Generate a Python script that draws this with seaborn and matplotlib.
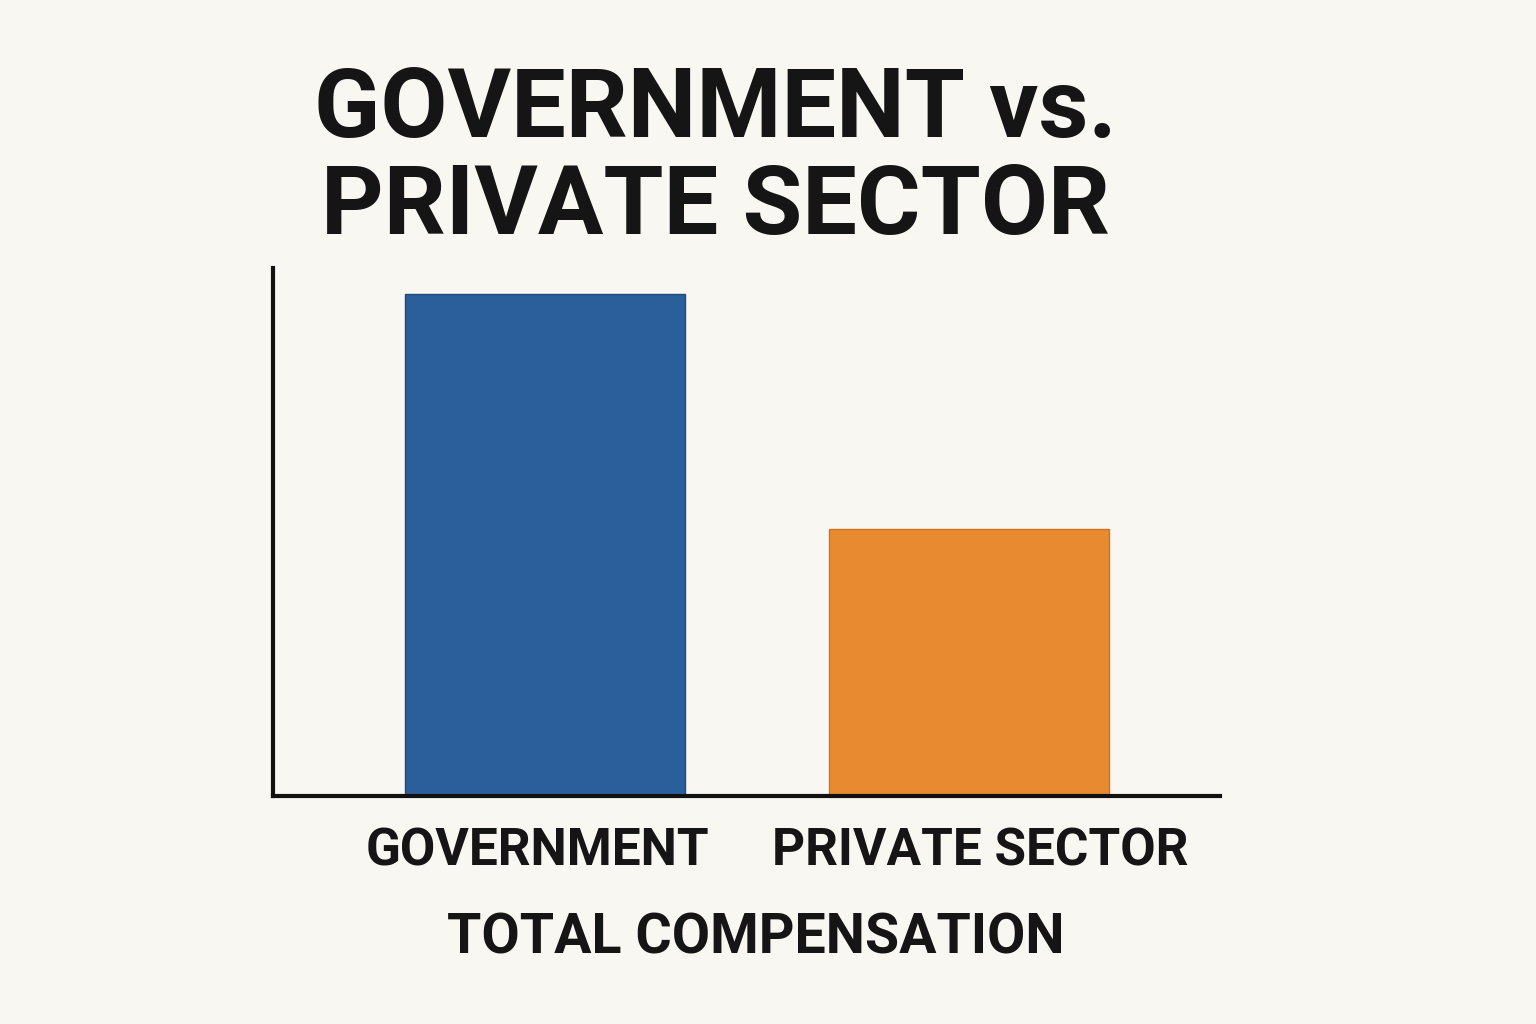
import matplotlib
matplotlib.use("Agg")
import matplotlib.pyplot as plt
import matplotlib.transforms as mtransforms
import seaborn as sns
import pandas as pd

categories = ["GOVERNMENT", "PRIVATE SECTOR"]
compensation = [100, 53.2]
bar_colors = ["#2A5F9C", "#E88A30"]
edge_colors = ["#1F4A80", "#D07420"]

df = pd.DataFrame({"sector": categories, "compensation": compensation})

sns.set_theme(style="white")
plt.rcParams["font.family"] = ["Roboto", "DejaVu Sans"]
bg = "#F9F7F2"

fig = plt.figure(figsize=(15.36, 10.24), dpi=100, facecolor=bg)
ax = fig.add_axes([0.1777, 0.2227, 0.6165, 0.5156])
ax.set_facecolor(bg)

sns.barplot(data=df, x="sector", y="compensation", hue="sector",
            palette=bar_colors, width=0.66, saturation=1, legend=False, ax=ax)
for patch, ec in zip(ax.patches, edge_colors):
    patch.set_edgecolor(ec)
    patch.set_linewidth(1)

ax.set_xlim(-0.642, 1.591)
ax.set_ylim(0, 105.2)
ax.set_yticks([])
ax.tick_params(axis="x", length=0, pad=22, labelsize=37, labelcolor="#151515")
# small horizontal nudges so the labels sit like the original
nudges = [-8, 11]
for lbl, dx in zip(ax.get_xticklabels(), nudges):
    lbl.set_fontweight("bold")
    lbl.set_transform(lbl.get_transform() +
                      mtransforms.ScaledTranslation(dx / 100, 0, fig.dpi_scale_trans))

ax.set_ylabel("")
ax.set_xlabel("TOTAL COMPENSATION", fontsize=40, fontweight="bold",
              color="#151515", labelpad=26)
ax.xaxis.label.set_transform(ax.xaxis.label.get_transform() +
                             mtransforms.ScaledTranslation(0.09, 0, fig.dpi_scale_trans))

sns.despine(ax=ax)
for side in ["left", "bottom"]:
    ax.spines[side].set_linewidth(3)
    ax.spines[side].set_color("#111111")

fig.text(0.466, 0.937, "GOVERNMENT vs.\nPRIVATE SECTOR", ha="center", va="top",
         fontsize=70, fontweight="bold", color="#151515", linespacing=1.08)

fig.savefig("out.png", dpi=100, facecolor=bg)
